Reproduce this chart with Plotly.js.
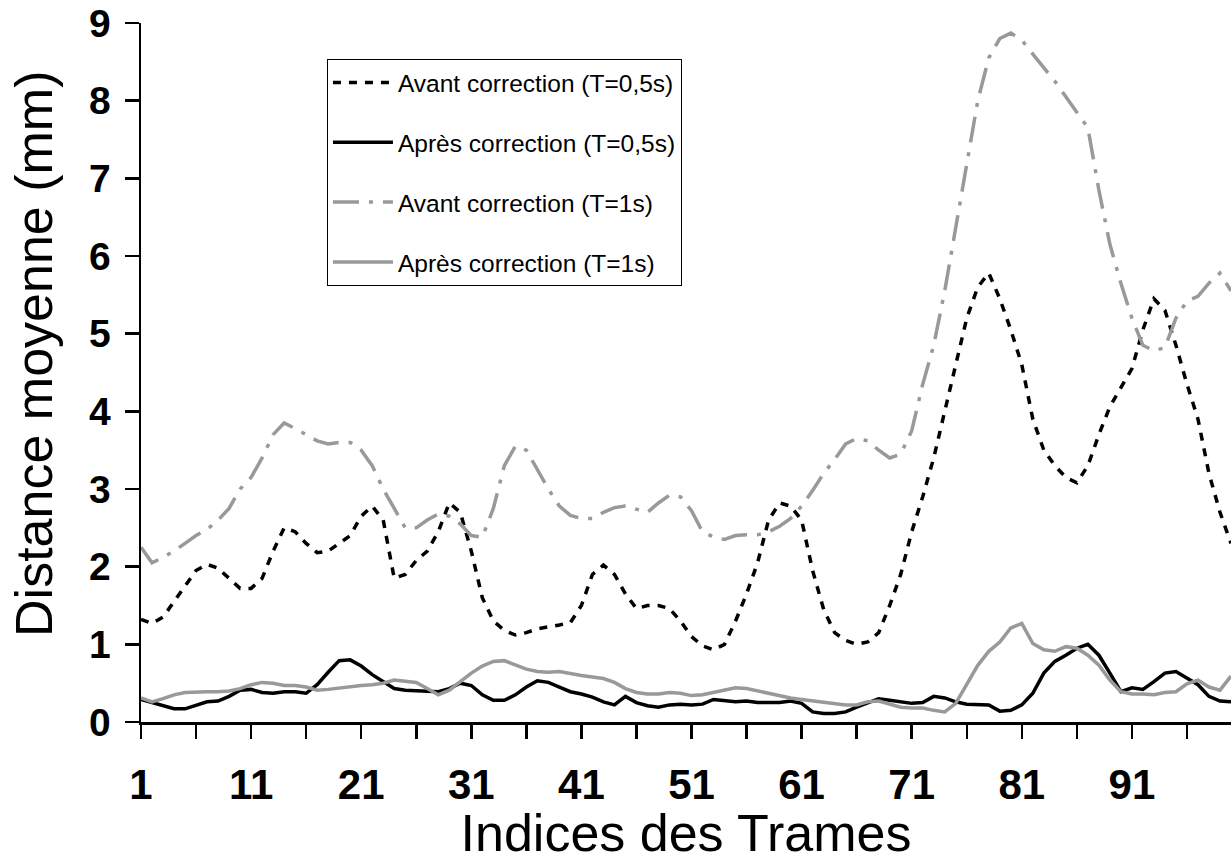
<!DOCTYPE html>
<html>
<head>
<meta charset="utf-8">
<script src="https://cdn.plot.ly/plotly-3.0.1.min.js"></script>
<style>html,body{margin:0;padding:0;background:#fff;}#chart{width:1232px;height:862px;}</style>
</head>
<body>
<div id="chart"></div>
<script>
// Frame indices 1..100
const frames = Array.from({length: 100}, (_, i) => i + 1);

const avant05 = [1.32,1.27,1.35,1.55,1.75,1.95,2.03,1.98,1.85,1.72,
  1.72,1.85,2.2,2.5,2.45,2.3,2.18,2.2,2.3,2.4,
  2.65,2.78,2.6,1.85,1.9,2.08,2.2,2.45,2.82,2.7,
  2.2,1.6,1.3,1.18,1.12,1.15,1.2,1.22,1.25,1.28,
  1.5,1.9,2.02,1.9,1.65,1.46,1.5,1.5,1.46,1.3,
  1.1,0.98,0.93,1.0,1.3,1.65,2.05,2.6,2.82,2.78,
  2.6,1.95,1.45,1.15,1.05,1.0,1.03,1.15,1.5,1.9,
  2.45,2.9,3.4,4.0,4.6,5.2,5.6,5.78,5.45,5.05,
  4.6,3.9,3.5,3.3,3.15,3.08,3.3,3.7,4.06,4.3,
  4.55,5.05,5.45,5.3,4.85,4.35,3.9,3.2,2.7,2.3];

const apres05 = [0.29,0.25,0.20,0.17,0.17,0.22,0.26,0.27,0.33,0.41,
  0.42,0.38,0.37,0.39,0.39,0.37,0.48,0.64,0.79,0.80,
  0.72,0.61,0.52,0.43,0.41,0.40,0.39,0.39,0.43,0.50,
  0.47,0.35,0.28,0.28,0.35,0.45,0.53,0.51,0.45,0.39,
  0.36,0.32,0.26,0.22,0.33,0.25,0.21,0.19,0.22,0.23,
  0.22,0.23,0.29,0.28,0.26,0.27,0.25,0.25,0.25,0.27,
  0.24,0.13,0.11,0.11,0.13,0.19,0.25,0.30,0.28,0.26,
  0.24,0.25,0.33,0.31,0.26,0.23,0.22,0.22,0.14,0.15,
  0.22,0.37,0.63,0.78,0.86,0.95,1.00,0.86,0.63,0.39,
  0.44,0.42,0.52,0.63,0.65,0.57,0.48,0.33,0.27,0.26];

const avant1 = [2.25,2.05,2.12,2.2,2.3,2.4,2.48,2.6,2.75,3.0,
  3.15,3.4,3.7,3.85,3.78,3.7,3.62,3.58,3.6,3.6,
  3.5,3.3,3.0,2.75,2.5,2.5,2.6,2.68,2.65,2.55,
  2.4,2.38,2.75,3.3,3.55,3.5,3.25,3.0,2.78,2.66,
  2.62,2.62,2.7,2.76,2.78,2.74,2.7,2.82,2.92,2.9,
  2.72,2.45,2.38,2.35,2.4,2.41,2.41,2.45,2.52,2.62,
  2.78,2.98,3.2,3.38,3.58,3.65,3.62,3.5,3.4,3.45,
  3.75,4.35,4.85,5.55,6.35,7.2,8.0,8.55,8.8,8.87,
  8.78,8.6,8.42,8.25,8.05,7.85,7.65,6.85,6.15,5.65,
  5.2,4.85,4.78,4.82,5.2,5.42,5.48,5.65,5.78,5.55];

const apres1 = [0.31,0.26,0.30,0.35,0.38,0.39,0.39,0.39,0.40,0.43,
  0.48,0.51,0.50,0.47,0.47,0.45,0.41,0.42,0.44,0.45,
  0.47,0.48,0.50,0.54,0.52,0.51,0.43,0.35,0.41,0.52,
  0.63,0.72,0.78,0.79,0.73,0.68,0.65,0.64,0.65,0.62,
  0.60,0.58,0.56,0.51,0.43,0.38,0.36,0.36,0.38,0.37,
  0.34,0.35,0.38,0.41,0.44,0.43,0.40,0.36,0.33,0.31,
  0.29,0.27,0.26,0.24,0.22,0.22,0.26,0.27,0.23,0.19,
  0.18,0.18,0.15,0.13,0.24,0.48,0.73,0.91,1.03,1.21,
  1.27,1.01,0.93,0.91,0.97,0.95,0.86,0.73,0.54,0.39,
  0.36,0.36,0.35,0.38,0.39,0.49,0.54,0.45,0.41,0.59];

const seriesNames = ["Avant correction (T=0,5s)", "Après correction (T=0,5s)",
                     "Avant correction (T=1s)", "Après correction (T=1s)"];

const xTickVals = [1,6,11,16,21,26,31,36,41,46,51,56,61,66,71,76,81,86,91,96];
const xTickText = ["1","","11","","21","","31","","41","","51","","61","","71","","81","","91",""];
const yTickVals = [0,1,2,3,4,5,6,7,8,9];
const xTitle = "Indices des Trames";
const yTitle = "Distance moyenne (mm)";

const GRAY = "#999999";
const FONT = "'Liberation Sans', Arial, sans-serif";

const traces = [
  {x: frames, y: avant05, name: seriesNames[0], legendgroup: "a",
   mode: "lines", line: {color: "#000000", width: 3.5, dash: "8px,8px"}},
  {x: frames, y: apres05, name: seriesNames[1], legendgroup: "b",
   mode: "lines", line: {color: "#000000", width: 3.5}},
  {x: frames, y: avant1, name: seriesNames[2], legendgroup: "c",
   mode: "lines", line: {color: GRAY, width: 3.5, dash: "26px,10px,4px,10px"}},
  {x: frames, y: apres1, name: seriesNames[3], legendgroup: "d",
   mode: "lines", line: {color: GRAY, width: 3.5}}
];

const layout = {
  width: 1232, height: 862,
  margin: {l: 141, r: 1, t: 23, b: 140, pad: 0},
  paper_bgcolor: "#ffffff", plot_bgcolor: "#ffffff",
  font: {family: FONT, color: "#000000"},
  showlegend: true,
  legend: {
    x: 0.1706, y: 0.9485, xanchor: "left", yanchor: "top",
    bgcolor: "#ffffff", bordercolor: "#000000", borderwidth: 1,
    font: {family: FONT, size: 24.5, color: "#000000"},
    tracegroupgap: 25, itemwidth: 60, traceorder: "grouped"
  },
  xaxis: {
    range: [1, 100], tickmode: "array", tickvals: xTickVals, ticktext: xTickText,
    ticks: "outside", ticklen: 14, tickwidth: 2.5, tickcolor: "#000000",
    showline: true, linecolor: "#000000", linewidth: 2.5,
    showgrid: false, zeroline: false,
    ticklabelstandoff: 10,
    tickfont: {family: FONT, size: 42, weight: "bold", color: "#000000"},
    title: {text: xTitle, font: {family: FONT, size: 52, color: "#000000"}, standoff: 2}
  },
  yaxis: {
    range: [0, 9], tickmode: "array", tickvals: yTickVals,
    ticks: "outside", ticklen: 14, tickwidth: 2.5, tickcolor: "#000000",
    showline: true, linecolor: "#000000", linewidth: 2.5,
    showgrid: false, zeroline: false,
    tickfont: {family: FONT, size: 39, weight: "bold", color: "#000000"},
    ticklabelstandoff: 6
  },
  annotations: [{
    text: yTitle, xref: "paper", yref: "paper",
    x: -0.0982, y: 0.5265, xanchor: "center", yanchor: "middle",
    textangle: -90, showarrow: false,
    font: {family: FONT, size: 52, color: "#000000"}
  }]
};

Plotly.newPlot("chart", traces, layout, {displayModeBar: false, staticPlot: true});
</script>
</body>
</html>
